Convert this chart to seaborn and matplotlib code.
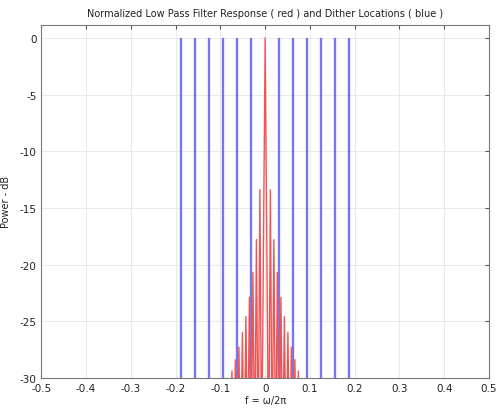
import numpy as np
import pandas as pd
import matplotlib
matplotlib.use("Agg")
import matplotlib.pyplot as plt
import seaborn as sns

# dither locations (blue), normalized frequency
dither_freq = [-0.1875, -0.15625, -0.125, -0.09375, -0.0625, -0.03125,
               0.03125, 0.0625, 0.09375, 0.125, 0.15625, 0.1875]
dither_top = 0.0

# low pass filter response (red), positive side
main_peak_db = 0.0
null_freq = [0.0078, 0.0156, 0.0234, 0.0313, 0.0391, 0.0469, 0.0547, 0.0625, 0.0703, 0.0781]
lobe_freq = [0.0117, 0.0195, 0.0273, 0.0352, 0.0430, 0.0508, 0.0586, 0.0664, 0.0742]
lobe_db = [-13.4, -17.8, -20.7, -22.9, -24.6, -26.0, -27.3, -28.4, -29.4]
null_db = -38.0

xticks = [-0.5, -0.4, -0.3, -0.2, -0.1, 0, 0.1, 0.2, 0.3, 0.4, 0.5]
xticklabels = ["-0.5", "-0.4", "-0.3", "-0.2", "-0.1", "0", "0.1", "0.2", "0.3", "0.4", "0.5"]
yticks = [0, -5, -10, -15, -20, -25, -30]
yticklabels = ["0", "-5", "-10", "-15", "-20", "-25", "-30"]

# build the red curve: peak / null alternation, mirrored about 0
pos_f, pos_db = [], []
for i, nf in enumerate(null_freq):
    pos_f.append(nf)
    pos_db.append(null_db)
    if i < len(lobe_freq):
        pos_f.append(lobe_freq[i])
        pos_db.append(lobe_db[i])
freq = [-f for f in pos_f[::-1]] + [0.0] + pos_f
power = pos_db[::-1] + [main_peak_db] + pos_db
resp = pd.DataFrame({"f": freq, "db": power})

sns.set_style("white")
plt.rcParams["axes.unicode_minus"] = False
plt.rcParams["font.family"] = ["DejaVu Sans"]

fig = plt.figure(figsize=(4.97, 4.10), dpi=100)
ax = fig.add_axes([0.083, 0.076, 0.901, 0.861])

ax.grid(True, color="#e6e6e6", linewidth=0.6)
ax.set_axisbelow(True)

ax.vlines(dither_freq, -30, dither_top, colors="#5555e0", linewidth=1.7, alpha=0.8, zorder=2)
sns.lineplot(data=resp, x="f", y="db", ax=ax, color="#f05555", linewidth=1.0,
             estimator=None, sort=False, zorder=3)

ax.set_xlim(-0.5, 0.5)
ax.set_ylim(-30, 1.15)
ax.set_xticks(xticks)
ax.set_xticklabels(xticklabels)
ax.set_yticks(yticks)
ax.set_yticklabels(yticklabels)
ax.tick_params(direction="in", length=3, labelsize=7.5, colors="#555555",
               top=True, right=True, labelcolor="#222222")
for s in ax.spines.values():
    s.set_color("#777777")
    s.set_linewidth(0.8)

ax.set_title("Normalized Low Pass Filter Response ( red ) and Dither Locations ( blue )",
             fontsize=7, color="#222222", pad=6)
ax.set_xlabel("f = ω/2π", fontsize=7, color="#222222", labelpad=2)
ax.set_ylabel("Power - dB", fontsize=7, color="#222222", labelpad=6)

fig.savefig("out.png", dpi=100)
